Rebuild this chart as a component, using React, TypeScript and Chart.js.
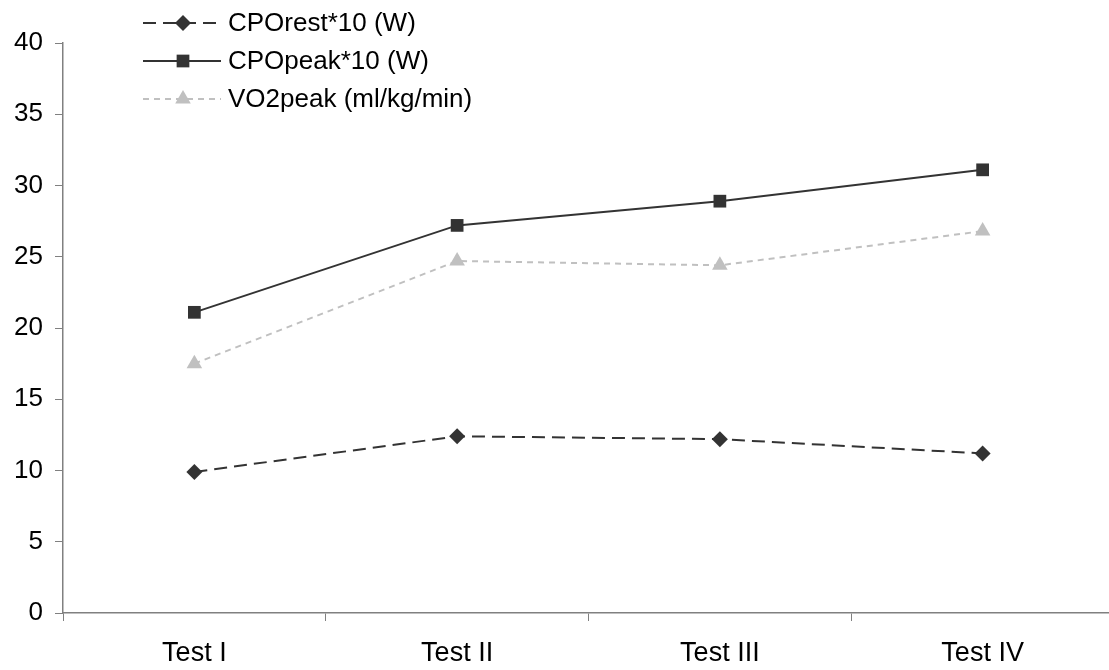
import React, { useEffect, useRef } from "react";
import { Chart, registerables } from "chart.js";

Chart.register(...registerables);

const categories = ["Test I", "Test II", "Test III", "Test IV"];
const cpoRest = [9.9, 12.4, 12.2, 11.2];
const cpoPeak = [21.1, 27.2, 28.9, 31.1];
const vo2Peak = [17.5, 24.7, 24.4, 26.8];
const seriesNames = ["CPOrest*10 (W)", "CPOpeak*10 (W)", "VO2peak (ml/kg/min)"];

const FONT = "'Liberation Sans', Arial, sans-serif";

const legendPlugin = {
  id: "customLegend",
  afterDraw(chart: any) {
    const ctx = chart.ctx;
    const rows = chart.data.datasets;
    ctx.save();
    rows.forEach((ds: any, i: number) => {
      const y = 23 + i * 38;
      const x0 = 143;
      const x1 = 221;
      const mx = 183;
      ctx.beginPath();
      ctx.strokeStyle = ds.borderColor;
      ctx.lineWidth = ds.borderWidth;
      ctx.setLineDash(ds.borderDash || []);
      ctx.moveTo(x0, y);
      ctx.lineTo(x1, y);
      ctx.stroke();
      ctx.setLineDash([]);
      ctx.fillStyle = ds.pointBackgroundColor;
      const r = ds.pointRadius;
      ctx.beginPath();
      if (ds.pointStyle === "rectRot") {
        ctx.moveTo(mx - r, y);
        ctx.lineTo(mx, y - r);
        ctx.lineTo(mx + r, y);
        ctx.lineTo(mx, y + r);
        ctx.closePath();
      } else if (ds.pointStyle === "rect") {
        const s = r * Math.SQRT1_2;
        ctx.rect(mx - s, y - s, 2 * s, 2 * s);
      } else {
        ctx.moveTo(mx, y - r);
        ctx.lineTo(mx + r * Math.sin((2 * Math.PI) / 3), y - r * Math.cos((2 * Math.PI) / 3));
        ctx.lineTo(mx + r * Math.sin((4 * Math.PI) / 3), y - r * Math.cos((4 * Math.PI) / 3));
        ctx.closePath();
      }
      ctx.fill();
      ctx.fillStyle = "#000";
      ctx.font = `26px ${FONT}`;
      ctx.textBaseline = "middle";
      ctx.textAlign = "left";
      ctx.fillText(ds.label, 228, y + 1);
    });
    ctx.restore();
  },
};

export default function App() {
  const ref = useRef<HTMLCanvasElement | null>(null);
  useEffect(() => {
    document.body.style.margin = "0";
    const chart = new Chart(ref.current as HTMLCanvasElement, {
      type: "line",
      data: {
        labels: categories,
        datasets: [
          {
            label: seriesNames[0],
            data: cpoRest,
            borderColor: "#333333",
            backgroundColor: "#333333",
            pointBackgroundColor: "#333333",
            pointBorderColor: "#333333",
            borderWidth: 2,
            borderDash: [13, 7],
            pointStyle: "rectRot",
            pointRadius: 8,
            pointBorderWidth: 0,
            tension: 0,
          },
          {
            label: seriesNames[1],
            data: cpoPeak,
            borderColor: "#333333",
            backgroundColor: "#333333",
            pointBackgroundColor: "#333333",
            pointBorderColor: "#333333",
            borderWidth: 2,
            pointStyle: "rect",
            pointRadius: 9,
            pointBorderWidth: 0,
            tension: 0,
          },
          {
            label: seriesNames[2],
            data: vo2Peak,
            borderColor: "#c0c0c0",
            backgroundColor: "#c0c0c0",
            pointBackgroundColor: "#c0c0c0",
            pointBorderColor: "#c0c0c0",
            borderWidth: 2,
            borderDash: [6, 5],
            pointStyle: "triangle",
            pointRadius: 9,
            pointBorderWidth: 0,
            tension: 0,
          },
        ],
      } as any,
      options: {
        animation: false,
        responsive: false,
        maintainAspectRatio: false,
        layout: { autoPadding: false, padding: { top: 43, left: 0, right: 0, bottom: 0 } },
        plugins: { legend: { display: false }, tooltip: { enabled: false } },
        scales: {
          x: {
            type: "category",
            offset: true,
            grid: {
              offset: true,
              display: true,
              drawOnChartArea: false,
              drawTicks: true,
              tickLength: 8,
              color: "#808080",
              lineWidth: 1,
            },
            border: { display: true, color: "#808080", width: 1.5 },
            ticks: {
              color: "#000",
              font: { family: FONT, size: 27 },
              padding: 16,
              maxRotation: 0,
            },
            afterFit(scale: any) {
              scale.height = 57;
            },
          },
          y: {
            min: 0,
            max: 40,
            grid: {
              display: true,
              drawOnChartArea: false,
              drawTicks: true,
              tickLength: 8,
              color: "#808080",
              lineWidth: 1,
            },
            border: { display: true, color: "#808080", width: 1.5 },
            ticks: {
              stepSize: 5,
              color: "#000",
              font: { family: FONT, size: 26 },
              padding: 12,
            },
            afterFit(scale: any) {
              scale.width = 63;
            },
          },
        },
      } as any,
      plugins: [legendPlugin],
    });
    return () => chart.destroy();
  }, []);
  return (
    <div style={{ position: "absolute", left: 0, top: 0, width: 1109, height: 670, overflow: "hidden" }}>
      <canvas ref={ref} width={1114} height={670} style={{ width: 1114, height: 670 }} />
    </div>
  );
}
